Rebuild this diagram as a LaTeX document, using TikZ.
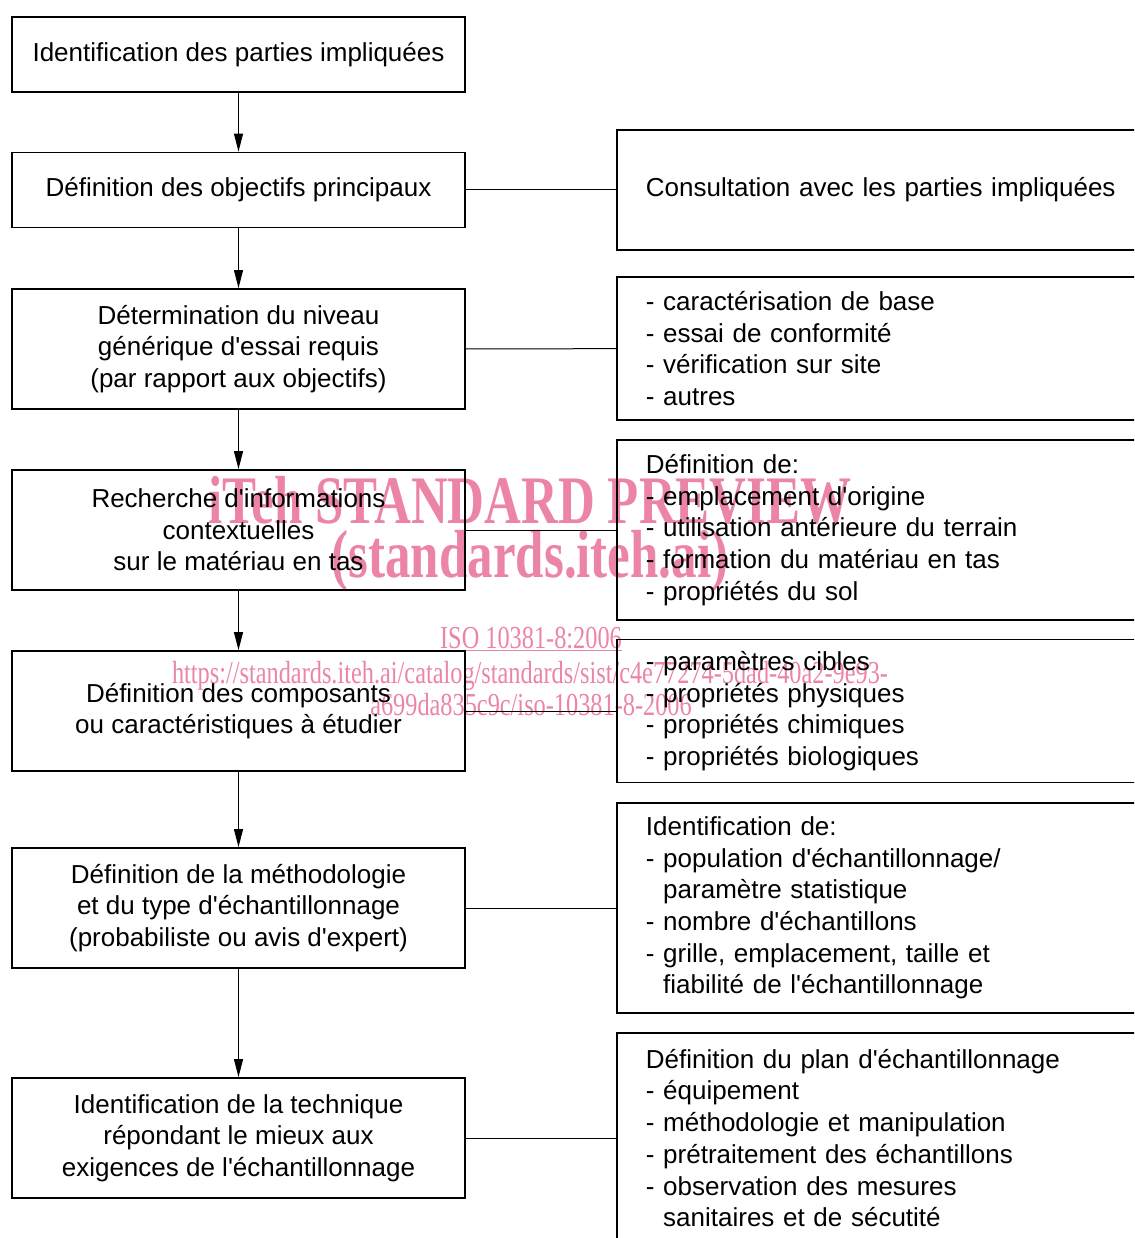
\documentclass[tikz,border=0pt]{standalone}
\usepackage{fontspec}
\setmainfont{Liberation Sans}[Ligatures=TeXOff]
\newfontfamily\wmfont{Liberation Serif}
\usepackage{graphicx}
\usetikzlibrary{arrows.meta,positioning}
\definecolor{wmcol}{RGB}{236,132,166}

\begin{document}
\begin{tikzpicture}[x=1pt, y=-1pt,
  stepbox/.style={draw, line width=1.8pt, minimum width=453pt, inner sep=0pt, align=center, font=\fontsize{26}{31.5}\selectfont},
  notebox/.style={draw, line width=1.8pt, anchor=west, text width=520pt, inner xsep=29pt, align=left, font=\fontsize{26}{31.7}\selectfont},
  flow/.style={-{Triangle[length=18pt,width=9pt]}, line width=1pt},
  link/.style={line width=1pt},
  wm/.style={text=wmcol, inner sep=0pt, anchor=base}
]
  \useasboundingbox (0,0) rectangle (1134,1238);
  \clip (0,0) rectangle (1134,1238);

  % watermark
  \node[wm, font=\wmfont\bfseries\fontsize{68}{68}\selectfont] (wm1) at (530,523) {\scalebox{0.75}[1]{iTeh STANDARD PREVIEW}};
  \node[wm, font=\wmfont\bfseries\fontsize{68}{68}\selectfont] (wm2) at (530,577) {\scalebox{0.75}[1]{(standards.iteh.ai)}};
  \node[wm, font=\wmfont\fontsize{32}{32}\selectfont] (wm3) at (531,648) {\scalebox{0.76}[1]{\underline{ISO 10381-8:2006}}};
  \node[wm, font=\wmfont\fontsize{32}{32}\selectfont] (wm4) at (530,683) {\scalebox{0.76}[1]{https://standards.iteh.ai/catalog/standards/sist/c4e77274-5dad-40a2-9e93-}};
  \node[wm, font=\wmfont\fontsize{32}{32}\selectfont] (wm5) at (531,715) {\scalebox{0.76}[1]{a699da835c9c/iso-10381-8-2006}};

  % steps
  \node[stepbox, minimum height=75pt] (ident) at (238.5,54.5) {Identification des parties impliquées};
  \node[stepbox, minimum height=75pt] (obj) at (238.5,190) {Définition des objectifs principaux};
  \node[stepbox, minimum height=120pt] (niveau) at (238.5,349) {Détermination du niveau\\générique d'essai requis\\(par rapport aux objectifs)};
  \node[stepbox, minimum height=120pt] (info) at (238.5,530) {Recherche d'informations\\contextuelles\\sur le matériau en tas};
  \node[stepbox, minimum height=120pt] (comp) at (238.5,711) {Définition des composants\\ou caractéristiques à étudier};
  \node[stepbox, minimum height=120pt] (meth) at (238.5,908) {Définition de la méthodologie\\et du type d'échantillonnage\\(probabiliste ou avis d'expert)};
  \node[stepbox, minimum height=120pt] (tech) at (238.5,1138) {Identification de la technique\\répondant le mieux aux\\exigences de l'échantillonnage};

  % notes
  \node[notebox, minimum height=120pt] (consult) at (616,190) {Consultation avec les parties impliquées};
  \node[notebox, minimum height=143pt] (essai) at (616,348.5) {- caractérisation de base\\- essai de conformité\\- vérification sur site\\- autres};
  \node[notebox, minimum height=180pt] (defin) at (616,530) {Définition de:\\- emplacement d'origine\\- utilisation antérieure du terrain\\- formation du matériau en tas\\- propriétés du sol};
  \node[notebox, minimum height=143pt] (param) at (616,711) {- paramètres cibles\\- propriétés physiques\\- propriétés chimiques\\- propriétés biologiques};
  \node[notebox, minimum height=210pt] (echant) at (616,908) {Identification de:\\- population d'échantillonnage/\\\phantom{- }paramètre statistique\\- nombre d'échantillons\\- grille, emplacement, taille et\\\phantom{- }fiabilité de l'échantillonnage};
  \node[notebox, minimum height=210pt] (plan) at (616,1138) {Définition du plan d'échantillonnage\\- équipement\\- méthodologie et manipulation\\- prétraitement des échantillons\\- observation des mesures\\\phantom{- }sanitaires et de sécutité};

  % arrows
  \draw[flow] (ident) -- (obj);
  \draw[flow] (obj) -- (niveau);
  \draw[flow] (niveau) -- (info);
  \draw[flow] (info) -- (comp);
  \draw[flow] (comp) -- (meth);
  \draw[flow] (meth) -- (tech);

  % links
  \draw[link] (obj) -- (consult);
  \draw[link] (niveau) -- (essai);
  \draw[link] (info) -- (defin);
  \draw[link] (comp) -- (param);
  \draw[link] (meth) -- (echant);
  \draw[link] (tech) -- (plan);
\end{tikzpicture}
\end{document}
